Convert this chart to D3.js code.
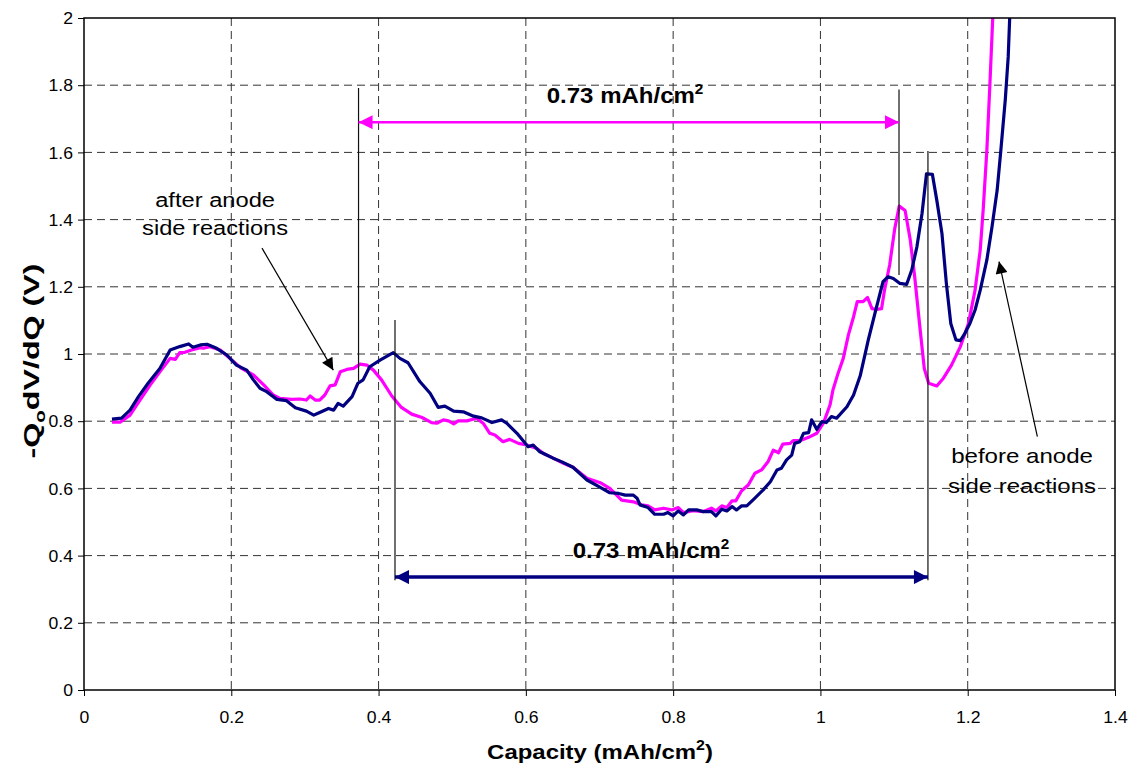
<!DOCTYPE html>
<html><head><meta charset="utf-8">
<script src="https://cdn.jsdelivr.net/npm/d3@7"></script>
<style>
body{margin:0;background:#fff}
svg{display:block}
text{font-family:"Liberation Sans",Arial,Helvetica,sans-serif;fill:#000}
</style>
</head><body>
<svg id="chart" width="1130" height="769"></svg>
<script>
// ---------------- data ----------------
const capBefore = [0.038,0.051,0.0625,0.074,0.087,0.103,0.117,0.130,0.142,0.148,0.158,0.167,0.180,0.194,0.207,0.221,0.230,0.239,0.248,0.262,0.275,0.287,0.302,0.312,0.320,0.332,0.339,0.345,0.352,0.364,0.372,0.379,0.388,0.402,0.420,0.429,0.440,0.456,0.470,0.481,0.490,0.502,0.515,0.529,0.540,0.554,0.567,0.574,0.588,0.603,0.610,0.619,0.637,0.649,0.664,0.683,0.701,0.714,0.726,0.735,0.746,0.751,0.755,0.766,0.775,0.787,0.793,0.800,0.807,0.814,0.821,0.832,0.841,0.852,0.858,0.866,0.873,0.880,0.886,0.893,0.900,0.911,0.922,0.932,0.941,0.947,0.954,0.961,0.965,0.972,0.977,0.984,0.988,0.995,1.002,1.008,1.015,1.022,1.036,1.045,1.054,1.065,1.074,1.085,1.092,1.099,1.108,1.117,1.124,1.131,1.138,1.144,1.152,1.158,1.165,1.171,1.177,1.184,1.190,1.196,1.203,1.210,1.217,1.226,1.233,1.240,1.245,1.251,1.255,1.257];
const dvdqBefore = [0.806,0.809,0.833,0.873,0.913,0.957,1.012,1.022,1.030,1.020,1.027,1.029,1.017,0.997,0.967,0.952,0.923,0.898,0.888,0.865,0.861,0.840,0.830,0.818,0.826,0.838,0.833,0.853,0.845,0.873,0.913,0.923,0.962,0.982,1.004,0.987,0.974,0.918,0.883,0.841,0.845,0.830,0.828,0.815,0.810,0.796,0.804,0.794,0.764,0.724,0.729,0.709,0.690,0.679,0.663,0.625,0.603,0.587,0.585,0.580,0.580,0.571,0.551,0.543,0.523,0.523,0.528,0.518,0.533,0.521,0.536,0.536,0.531,0.531,0.518,0.538,0.533,0.546,0.536,0.548,0.548,0.571,0.595,0.620,0.655,0.660,0.685,0.699,0.734,0.739,0.764,0.766,0.804,0.776,0.799,0.796,0.814,0.809,0.843,0.878,0.935,1.042,1.121,1.215,1.230,1.225,1.210,1.207,1.250,1.319,1.419,1.536,1.535,1.458,1.359,1.210,1.091,1.042,1.040,1.061,1.091,1.131,1.190,1.280,1.379,1.488,1.607,1.756,1.885,2.0];

const capAfter = [0.038,0.049,0.0625,0.076,0.090,0.103,0.117,0.124,0.130,0.137,0.146,0.158,0.162,0.171,0.185,0.198,0.214,0.230,0.244,0.257,0.266,0.282,0.293,0.302,0.307,0.314,0.320,0.327,0.334,0.341,0.348,0.357,0.366,0.375,0.384,0.393,0.404,0.418,0.431,0.445,0.459,0.472,0.479,0.488,0.495,0.502,0.508,0.520,0.533,0.542,0.551,0.558,0.569,0.578,0.590,0.601,0.615,0.624,0.637,0.651,0.664,0.683,0.701,0.714,0.730,0.746,0.757,0.766,0.775,0.787,0.798,0.807,0.814,0.827,0.841,0.852,0.858,0.866,0.873,0.880,0.885,0.893,0.902,0.911,0.920,0.929,0.936,0.943,0.949,0.959,0.963,0.972,0.984,0.995,1.004,1.013,1.017,1.024,1.031,1.038,1.045,1.050,1.058,1.064,1.070,1.076,1.083,1.087,1.094,1.101,1.107,1.115,1.122,1.128,1.135,1.141,1.147,1.158,1.167,1.178,1.190,1.201,1.210,1.217,1.221,1.226,1.230,1.234];
const dvdqAfter = [0.797,0.797,0.818,0.863,0.908,0.947,0.987,0.984,1.004,1.005,1.012,1.019,1.017,1.022,1.012,0.987,0.957,0.938,0.908,0.878,0.868,0.865,0.866,0.863,0.875,0.863,0.863,0.878,0.905,0.908,0.947,0.954,0.957,0.970,0.967,0.952,0.923,0.875,0.841,0.821,0.811,0.796,0.794,0.804,0.801,0.792,0.801,0.801,0.809,0.794,0.764,0.759,0.739,0.746,0.734,0.729,0.719,0.704,0.690,0.675,0.663,0.630,0.617,0.600,0.565,0.560,0.551,0.548,0.536,0.541,0.536,0.543,0.528,0.534,0.531,0.541,0.533,0.548,0.543,0.563,0.563,0.593,0.610,0.645,0.655,0.680,0.714,0.706,0.732,0.734,0.742,0.742,0.752,0.764,0.794,0.848,0.893,0.943,0.987,1.057,1.111,1.156,1.156,1.168,1.135,1.133,1.135,1.190,1.265,1.374,1.440,1.427,1.339,1.230,1.081,0.957,0.913,0.905,0.928,0.967,1.022,1.091,1.190,1.310,1.429,1.607,1.796,2.0];

const xTickValues = [0,0.2,0.4,0.6,0.8,1.0,1.2,1.4];
const xTickLabels = ["0","0.2","0.4","0.6","0.8","1","1.2","1.4"];
const yTickValues = [0,0.2,0.4,0.6,0.8,1.0,1.2,1.4,1.6,1.8,2.0];
const yTickLabels = ["0","0.2","0.4","0.6","0.8","1","1.2","1.4","1.6","1.8","2"];

// annotation anchors (data units)
const spanAfter = [0.3728, 1.1067];   // capacity shift, after side reactions
const spanBefore = [0.4223, 1.146];   // capacity shift, before side reactions
const spanLabel = "0.73 mAh/cm";

// ---------------- layout ----------------
const svg = d3.select("#chart");
const L = 84, R = 1115, T = 18, B = 690;
const x = d3.scaleLinear().domain([0, 1.4]).range([L, R]);
const y = d3.scaleLinear().domain([0, 2]).range([B, T]);
const PINK = "#ff00ff", NAVY = "#000080";
const SX = 1.1; // horizontal text stretch

const defs = svg.append("defs");
defs.append("clipPath").attr("id","clip").append("rect")
  .attr("x",L).attr("y",T).attr("width",R-L).attr("height",B-T);
function marker(id, color, w, h){
  defs.append("marker").attr("id",id).attr("viewBox","0 0 10 10")
    .attr("refX",10).attr("refY",5).attr("markerWidth",w).attr("markerHeight",h)
    .attr("markerUnits","userSpaceOnUse").attr("orient","auto-start-reverse")
    .append("path").attr("d","M0,0L10,5L0,10Z").attr("fill",color);
}
marker("hPink", PINK, 16, 14);
marker("hNavy", NAVY, 16, 14);
marker("hBlack", "#000", 15, 12);

// gridlines
const grid = svg.append("g");
grid.selectAll("line.h").data(yTickValues.filter(d=>d>0 && d<2)).join("line")
  .attr("x1",L).attr("x2",R).attr("y1",d=>y(d)).attr("y2",d=>y(d))
  .attr("stroke","#333").attr("stroke-width",1).attr("stroke-dasharray","8,5");
grid.selectAll("line.v").data(xTickValues.filter(d=>d>0 && d<1.4)).join("line")
  .attr("y1",T).attr("y2",B).attr("x1",d=>x(d)).attr("x2",d=>x(d))
  .attr("stroke","#333").attr("stroke-width",1).attr("stroke-dasharray","8,5");

// axes
const yAxis = svg.append("g").attr("transform",`translate(${L},0)`)
  .call(d3.axisLeft(y).tickValues(yTickValues).tickFormat((d,i)=>yTickLabels[i]).tickSizeInner(6).tickSizeOuter(0));
yAxis.select(".domain").remove();
yAxis.selectAll("line").attr("stroke","#000");
yAxis.selectAll("text").attr("x",0).attr("dy","0.36em").style("font-size","16px")
  .attr("transform",`translate(-11,0) scale(${SX},1)`);

const xAxis = svg.append("g").attr("transform",`translate(0,${B})`)
  .call(d3.axisBottom(x).tickValues(xTickValues).tickFormat((d,i)=>xTickLabels[i]).tickSizeInner(6).tickSizeOuter(0));
xAxis.select(".domain").remove();
xAxis.selectAll("line").attr("stroke","#000");
xAxis.selectAll("text").attr("y",0).attr("dy",0).style("font-size","16px")
  .attr("transform",`translate(0,33) scale(${SX},1)`);

// series
const line = d3.line().x(d=>x(d[0])).y(d=>y(d[1]));
const plot = svg.append("g").attr("clip-path","url(#clip)");
plot.append("path").datum(d3.zip(capAfter, dvdqAfter)).attr("d",line)
  .attr("fill","none").attr("stroke",PINK).attr("stroke-width",3.2).attr("stroke-linejoin","round");
plot.append("path").datum(d3.zip(capBefore, dvdqBefore)).attr("d",line)
  .attr("fill","none").attr("stroke",NAVY).attr("stroke-width",3.2).attr("stroke-linejoin","round");

// plot frame
svg.append("rect").attr("x",L).attr("y",T).attr("width",R-L).attr("height",B-T)
  .attr("fill","none").attr("stroke","#000").attr("stroke-width",1.5);

// annotation lines
const ann = svg.append("g");
function vline(xv, y1, y2){
  ann.append("line").attr("x1",x(xv)).attr("x2",x(xv)).attr("y1",y(y1)).attr("y2",y(y2))
    .attr("stroke","#111").attr("stroke-width",1.2);
}
vline(spanAfter[0], 1.792, 0.92);
vline(spanAfter[1], 1.787, 1.235);
vline(spanBefore[0], 1.101, 0.327);
vline(spanBefore[1], 1.604, 0.327);
ann.append("line").attr("x1",x(spanAfter[0])).attr("x2",x(spanAfter[1])).attr("y1",y(1.69)).attr("y2",y(1.69))
  .attr("stroke",PINK).attr("stroke-width",2.5)
  .attr("marker-start","url(#hPink)").attr("marker-end","url(#hPink)");
ann.append("line").attr("x1",x(spanBefore[0])).attr("x2",x(spanBefore[1])).attr("y1",y(0.336)).attr("y2",y(0.336))
  .attr("stroke",NAVY).attr("stroke-width",3.5)
  .attr("marker-start","url(#hNavy)").attr("marker-end","url(#hNavy)");
// callout arrows
ann.append("line").attr("x1",x(0.2417)).attr("y1",y(1.315)).attr("x2",x(0.3385)).attr("y2",y(0.952))
  .attr("stroke","#000").attr("stroke-width",1.2).attr("marker-end","url(#hBlack)");
ann.append("line").attr("x1",x(1.2946)).attr("y1",y(0.754)).attr("x2",x(1.2425)).attr("y2",y(1.275))
  .attr("stroke","#000").attr("stroke-width",1.2).attr("marker-end","url(#hBlack)");

// text helpers
function fitText(sel, cx, cy, width, rotate){
  const w = sel.node().getBBox().width;
  const s = width ? width / w : SX;
  sel.attr("text-anchor","middle")
     .attr("transform",`translate(${cx},${cy})${rotate?` rotate(${rotate})`:""} scale(${s},1)`);
}
function spanText(cx, cy, width){
  const t = svg.append("text").style("font-size","22px").style("font-weight","bold");
  t.append("tspan").text(spanLabel);
  t.append("tspan").attr("dy",-9).style("font-size","14px").text("2");
  fitText(t, cx, cy, width);
}
spanText(x(0.7347), y(1.747), 157);
spanText(x(0.770), y(0.393), 157);

function plain(str, xv, yv, width){
  const t = svg.append("text").style("font-size","21px").text(str);
  fitText(t, x(xv), y(yv), width);
}
plain("after anode", 0.178, 1.4375, 120);
plain("side reactions", 0.178, 1.354, 146);
plain("before anode", 1.2738, 0.6756, 142);
plain("side reactions", 1.2738, 0.587, 148);

// axis titles
const xt = svg.append("text").style("font-size","21px").style("font-weight","bold");
xt.append("tspan").text("Capacity (mAh/cm");
xt.append("tspan").attr("dy",-9).style("font-size","14px").text("2");
xt.append("tspan").attr("dy",9).text(")");
fitText(xt, 600, 759, 226);

const yt = svg.append("text").style("font-size","22px").style("font-weight","bold");
yt.append("tspan").text("-Q");
yt.append("tspan").attr("dy",6).style("font-size","14px").text("o");
yt.append("tspan").attr("dy",-6).text("dV/dQ (V)");
fitText(yt, 39, 361, 195, -90);
</script>
</body></html>
